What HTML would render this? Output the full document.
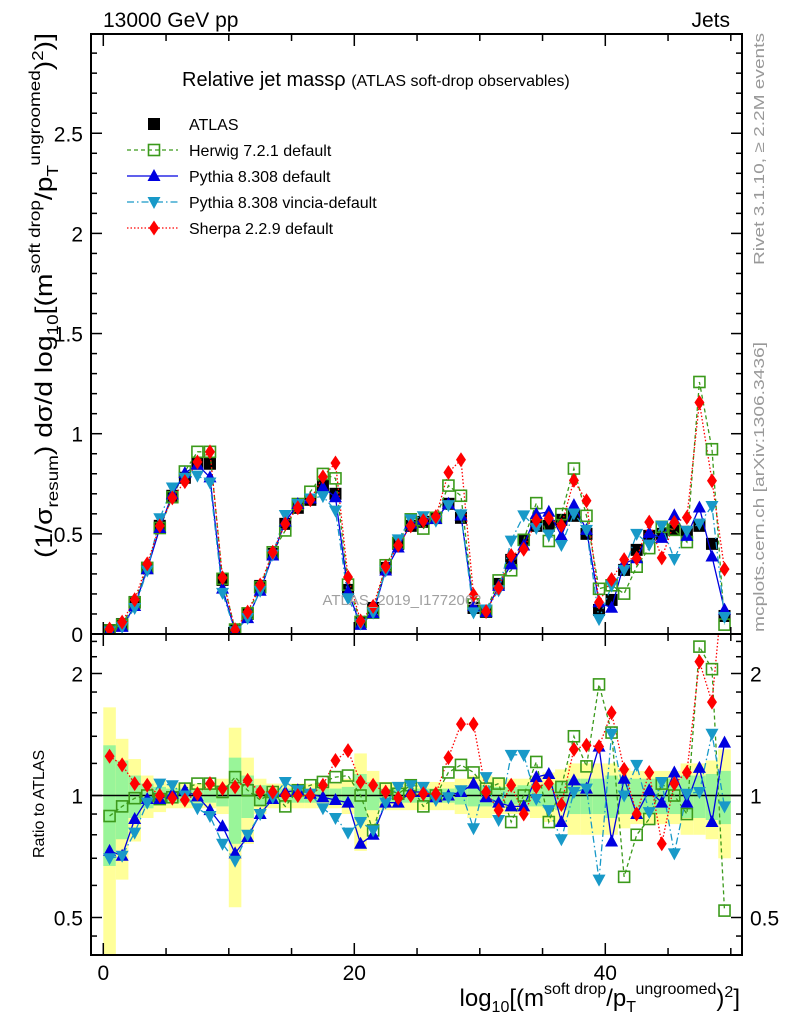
<!DOCTYPE html>
<html><head><meta charset="utf-8"><style>
html,body{margin:0;padding:0;background:#fff;}
svg{display:block;font-family:"Liberation Sans","DejaVu Sans",sans-serif;}
</style></head><body>
<svg id="chart" width="786" height="1024" viewBox="0 0 786 1024" xmlns="http://www.w3.org/2000/svg">
<defs>
<clipPath id="clipMain"><rect x="91" y="34" width="651" height="600"/></clipPath>
<clipPath id="clipRatio"><rect x="91" y="634" width="651" height="321"/></clipPath>
</defs>
<rect width="786" height="1024" fill="#fff"/>
<g id="ratioBands" clip-path="url(#clipRatio)"></g>
<g id="mainMarks" clip-path="url(#clipMain)"></g>
<g id="ratioMarks" clip-path="url(#clipRatio)"></g>
<g id="axes"></g>
<text x="103" y="27" font-size="21">13000 GeV pp</text>
<text x="730" y="27" font-size="21" text-anchor="end">Jets</text>
<text x="182" y="86" font-size="20">Relative jet massρ <tspan font-size="16">(ATLAS soft-drop observables)</tspan></text>
<text x="402" y="605" font-size="15" fill="#a0a0a0" text-anchor="middle">ATLAS_2019_I1772062</text>
<text transform="translate(764,265) rotate(-90)" font-size="15" fill="#999" textLength="232" lengthAdjust="spacingAndGlyphs">Rivet 3.1.10, ≥ 2.2M events</text>
<text transform="translate(764,632) rotate(-90)" font-size="15" fill="#999" textLength="290" lengthAdjust="spacingAndGlyphs">mcplots.cern.ch [arXiv:1306.3436]</text>
<text transform="translate(52,558) rotate(-90)" font-size="24" textLength="525" lengthAdjust="spacingAndGlyphs">(1/σ<tspan font-size="16" dy="6">resum</tspan><tspan dy="-6">) dσ/d log</tspan><tspan font-size="16" dy="6">10</tspan><tspan dy="-6">[(m</tspan><tspan font-size="16" dy="-12">soft drop</tspan><tspan dy="12">/p</tspan><tspan font-size="16" dy="6">T</tspan><tspan font-size="16" dy="-18">ungroomed</tspan><tspan dy="12">)</tspan><tspan font-size="16" dy="-9">2</tspan><tspan dy="9">)]</tspan></text>
<text transform="translate(44,858) rotate(-90)" font-size="16">Ratio to ATLAS</text>
<text x="740" y="1006" font-size="24" text-anchor="end">log<tspan font-size="16" dy="6">10</tspan><tspan dy="-6">[(m</tspan><tspan font-size="16" dy="-12">soft drop</tspan><tspan dy="12">/p</tspan><tspan font-size="16" dy="6">T</tspan><tspan font-size="16" dy="-18">ungroomed</tspan><tspan dy="12">)</tspan><tspan font-size="16" dy="-9">2</tspan><tspan dy="9">]</tspan></text>
<g id="legend"></g>
</svg>
<script>
const binCenters = [0.5,1.5,2.5,3.5,4.5,5.5,6.5,7.5,8.5,9.5,10.5,11.5,12.5,13.5,14.5,15.5,16.5,17.5,18.5,19.5,20.5,21.5,22.5,23.5,24.5,25.5,26.5,27.5,28.5,29.5,30.5,31.5,32.5,33.5,34.5,35.5,36.5,37.5,38.5,39.5,40.5,41.5,42.5,43.5,44.5,45.5,46.5,47.5,48.5,49.5];
const atlasValues = [0.02,0.05,0.16,0.33,0.54,0.69,0.78,0.85,0.85,0.27,0.02,0.10,0.24,0.40,0.55,0.63,0.67,0.74,0.70,0.22,0.06,0.13,0.33,0.45,0.54,0.56,0.58,0.65,0.58,0.13,0.11,0.25,0.37,0.47,0.54,0.54,0.57,0.59,0.50,0.12,0.17,0.32,0.42,0.49,0.50,0.52,0.51,0.54,0.45,0.09];
const ratioHerwig = [0.89,0.94,0.985,1.0,0.98,0.99,1.04,1.07,1.07,1.02,1.11,1.03,0.975,1.02,0.94,1.03,1.06,1.08,1.11,1.12,1.0,0.82,1.04,1.01,1.06,0.94,1.0,1.14,1.19,1.14,1.04,1.07,0.86,1.0,1.21,0.86,1.05,1.4,1.18,1.88,1.43,0.63,0.8,0.875,1.07,1.0,0.9,2.33,2.05,0.52];
const ratioPythia = [0.73,0.71,0.875,0.98,0.98,1.01,1.03,0.995,0.92,0.84,0.72,0.79,0.9,0.98,1.02,1.03,1.01,0.99,0.975,0.96,0.76,0.8,0.96,0.96,1.02,1.02,0.99,1.0,1.02,1.07,0.99,0.96,0.94,0.94,1.11,1.13,0.86,1.09,1.04,1.32,0.77,1.1,0.9,1.03,0.96,1.14,0.96,1.17,0.86,1.35];
const ratioVincia = [0.7,0.71,0.81,0.96,1.07,1.06,1.0,0.93,0.89,0.76,0.69,0.8,0.9,0.99,1.08,1.03,1.01,0.93,0.88,0.81,0.86,0.82,0.96,1.05,1.06,1.05,0.975,0.99,1.03,0.83,1.11,0.87,1.26,1.26,0.98,0.92,0.78,1.02,1.04,0.62,1.42,1.0,1.19,0.91,1.08,0.72,1.01,1.02,1.42,0.94];
const ratioSherpa = [1.25,1.19,1.07,1.06,1.0,0.985,0.975,1.01,1.07,1.04,1.05,1.09,1.02,1.02,1.0,1.0,1.0,1.06,1.22,1.29,1.08,1.06,1.02,0.985,1.0,1.01,1.01,1.24,1.5,1.5,1.02,0.92,1.06,0.9,1.05,1.07,0.95,1.3,1.33,1.32,1.6,1.16,0.9,1.14,0.76,1.07,1.14,2.14,1.7,3.6];
const bandInner = [0.33,0.22,0.12,0.07,0.05,0.04,0.04,0.04,0.04,0.06,0.24,0.12,0.06,0.04,0.04,0.04,0.04,0.04,0.04,0.05,0.13,0.08,0.04,0.04,0.04,0.04,0.04,0.04,0.05,0.06,0.06,0.05,0.05,0.06,0.06,0.07,0.08,0.1,0.1,0.1,0.12,0.1,0.1,0.1,0.1,0.1,0.12,0.12,0.13,0.15];
const bandOuter = [0.65,0.38,0.23,0.12,0.09,0.07,0.07,0.07,0.07,0.1,0.47,0.24,0.1,0.07,0.07,0.07,0.07,0.07,0.07,0.1,0.27,0.15,0.08,0.08,0.08,0.08,0.08,0.08,0.1,0.12,0.12,0.1,0.1,0.1,0.12,0.14,0.16,0.2,0.2,0.2,0.2,0.17,0.15,0.15,0.15,0.15,0.2,0.2,0.22,0.3];
const mainYTicks = ["0","0.5","1","1.5","2","2.5"];
const ratioYTicks = ["0.5","1","2"];
const xTickLabels = ["0","20","40"];

const NS = "http://www.w3.org/2000/svg";
const X0 = 103.3, XS = 12.55;
function xPos(u){ return X0 + u*XS; }
function yMain(v){ return 634 - v*200.3; }
function yRatio(r){ return 795.5 - 122*Math.log2(r); }
function mk(tag, attrs, parent){ const e=document.createElementNS(NS,tag); for(const k in attrs) e.setAttribute(k,attrs[k]); parent.appendChild(e); return e; }

const series = [
  {name:"herwig", label:"Herwig 7.2.1 default", color:"#3b9a1b", dash:"4,3", marker:"sqOpen", ratio:ratioHerwig},
  {name:"pythia", label:"Pythia 8.308 default", color:"#0000e0", dash:"", marker:"triUp", ratio:ratioPythia},
  {name:"vincia", label:"Pythia 8.308 vincia-default", color:"#1899c8", dash:"7,3,1.5,3", marker:"triDown", ratio:ratioVincia},
  {name:"sherpa", label:"Sherpa 2.2.9 default", color:"#ff0000", dash:"1.5,2", marker:"diamond", ratio:ratioSherpa}
];

function drawMarker(parent, type, x, y, color){
  let e;
  if(type==="sq") e = mk("rect",{x:x-6,y:y-6,width:12,height:12,fill:"#000"},parent);
  else if(type==="sqOpen") e = mk("rect",{x:x-5.5,y:y-5.5,width:11,height:11,fill:"none",stroke:color,"stroke-width":1.6},parent);
  else if(type==="triUp") e = mk("polygon",{points:`${x},${y-7} ${x-6.5},${y+5} ${x+6.5},${y+5}`,fill:color},parent);
  else if(type==="triDown") e = mk("polygon",{points:`${x},${y+7} ${x-6.5},${y-5} ${x+6.5},${y-5}`,fill:color},parent);
  else e = mk("polygon",{points:`${x},${y-7.5} ${x+5},${y} ${x},${y+7.5} ${x-5},${y}`,fill:color},parent);
  return e;
}

const gB = document.getElementById("ratioBands");
binCenters.forEach((c,i)=>{
  const x1=xPos(c-0.5), x2=xPos(c+0.5);
  const yo1=yRatio(1+bandOuter[i]), yo2=yRatio(Math.max(0.05,1-bandOuter[i]));
  const r1 = mk("rect",{x:x1,y:yo1,width:x2-x1,height:yo2-yo1,fill:"#ffff99"},gB);
  
  
  const yi1=yRatio(1+bandInner[i]), yi2=yRatio(1-bandInner[i]);
  const r2 = mk("rect",{x:x1,y:yi1,width:x2-x1,height:yi2-yi1,fill:"#99f599"},gB);
  
  
});

const gM = document.getElementById("mainMarks");
binCenters.forEach((c,i)=>{
  const s = drawMarker(gM,"sq",xPos(c),yMain(atlasValues[i]),"#000");
  
  
});
series.forEach(s=>{
  const pts = binCenters.map((c,i)=>`${xPos(c).toFixed(1)},${yMain(atlasValues[i]*s.ratio[i]).toFixed(1)}`).join(" ");
  const pl = mk("polyline",{points:pts,fill:"none",stroke:s.color,"stroke-width":1.3,"stroke-dasharray":s.dash},gM);
  
  
});
series.forEach(s=>{
  binCenters.forEach((c,i)=>{
    const m = drawMarker(gM,s.marker,xPos(c),yMain(atlasValues[i]*s.ratio[i]),s.color);
    
    
  });
});

const gR = document.getElementById("ratioMarks");
const oneLine = mk("line",{x1:91,x2:742,y1:yRatio(1),y2:yRatio(1),stroke:"#000","stroke-width":1.5},gR);


series.forEach(s=>{
  const pts = binCenters.map((c,i)=>`${xPos(c).toFixed(1)},${yRatio(s.ratio[i]).toFixed(1)}`).join(" ");
  const pl = mk("polyline",{points:pts,fill:"none",stroke:s.color,"stroke-width":1.3,"stroke-dasharray":s.dash},gR);
  
  
});
series.forEach(s=>{
  binCenters.forEach((c,i)=>{
    const m = drawMarker(gR,s.marker,xPos(c),yRatio(s.ratio[i]),s.color);
    
    
  });
});

const gA = document.getElementById("axes");
const f1 = mk("rect",{x:91,y:34,width:651,height:600,fill:"none",stroke:"#000","stroke-width":2},gA);


const f2 = mk("rect",{x:91,y:634,width:651,height:321,fill:"none",stroke:"#000","stroke-width":2},gA);


for(let u=0; u<=50; u+=5){
  const x=xPos(u), L=(u%20===0)?12:7;
  mk("line",{x1:x,x2:x,y1:634,y2:634-L,stroke:"#000","stroke-width":1.5},gA);
  mk("line",{x1:x,x2:x,y1:34,y2:34+L,stroke:"#000","stroke-width":1.5},gA);
  mk("line",{x1:x,x2:x,y1:955,y2:955-L,stroke:"#000","stroke-width":1.5},gA);
  mk("line",{x1:x,x2:x,y1:634,y2:634+L,stroke:"#000","stroke-width":1.5},gA);
}
xTickLabels.forEach(t=>{
  const tx = mk("text",{x:xPos(+t),y:980,"font-size":21,"text-anchor":"middle"},gA);
  tx.textContent=t;
  
  
});
for(let k=1;k<30;k++){
  const y=yMain(k/10), L=(k%5===0)?11:6;
  mk("line",{x1:91,x2:91+L,y1:y,y2:y,stroke:"#000","stroke-width":1.5},gA);
  mk("line",{x1:742,x2:742-L,y1:y,y2:y,stroke:"#000","stroke-width":1.5},gA);
}
mainYTicks.forEach(t=>{
  const tx = mk("text",{x:83,y:yMain(+t)+8,"font-size":21,"text-anchor":"end"},gA);
  tx.textContent=t;
  
  
});
[0.45,0.6,0.7,0.8,0.9,1.2,1.4,1.6,1.8,2.2,2.4].forEach(r=>{
  const y=yRatio(r);
  mk("line",{x1:91,x2:97,y1:y,y2:y,stroke:"#000","stroke-width":1.5},gA);
  mk("line",{x1:742,x2:736,y1:y,y2:y,stroke:"#000","stroke-width":1.5},gA);
});
ratioYTicks.forEach(t=>{
  const y=yRatio(+t);
  mk("line",{x1:91,x2:102,y1:y,y2:y,stroke:"#000","stroke-width":1.5},gA);
  mk("line",{x1:742,x2:731,y1:y,y2:y,stroke:"#000","stroke-width":1.5},gA);
  const a = mk("text",{x:83,y:y+8,"font-size":21,"text-anchor":"end"},gA);
  a.textContent=t;
  
  
  const b = mk("text",{x:750,y:y+8,"font-size":21},gA);
  b.textContent=t;
  
  
});

const gL = document.getElementById("legend");
const legY = [124,150,176,202,228];
const la = drawMarker(gL,"sq",154,legY[0],"#000");


const lt = mk("text",{x:189,y:legY[0]+6,"font-size":16},gL);
lt.textContent="ATLAS";


series.forEach((s,i)=>{
  const y=legY[i+1];
  const ln = mk("line",{x1:127,x2:178,y1:y,y2:y,stroke:s.color,"stroke-width":1.3,"stroke-dasharray":s.dash},gL);
  
  
  const m = drawMarker(gL,s.marker,154,y,s.color);
  
  
  const t = mk("text",{x:189,y:y+6,"font-size":16},gL);
  t.textContent=s.label;
  
  
});
</script>
</body></html>
